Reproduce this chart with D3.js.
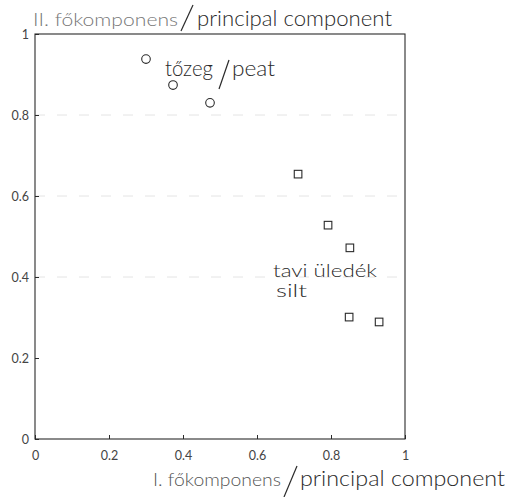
<!DOCTYPE html>
<html><head><meta charset="utf-8">
<script src="https://cdn.jsdelivr.net/npm/d3@7"></script>
<style>body{margin:0;background:#fff}svg{display:block}</style>
</head><body>
<svg id="c" width="508" height="497"></svg>
<script>
const peatX = [0.30, 0.373, 0.473];
const peatY = [0.938, 0.874, 0.830];
const siltX = [0.711, 0.792, 0.851, 0.849, 0.930];
const siltY = [0.654, 0.528, 0.472, 0.301, 0.289];
const xTicks = [0, 0.2, 0.4, 0.6, 0.8, 1];
const yTicks = [0, 0.2, 0.4, 0.6, 0.8, 1];
const xTickLabels = ["0", "0.2", "0.4", "0.6", "0.8", "1"];
const yTickLabels = ["0", "0.2", "0.4", "0.6", "0.8", "1"];

const svg = d3.select("#c");
const L = 35, R = 405, T = 34, B = 439;
const x = d3.scaleLinear().domain([0, 1]).range([L, R]);
const y = d3.scaleLinear().domain([0, 1]).range([B, T]);
const font = "Lato, 'DejaVu Sans', sans-serif";
const ink = "#2a2a2a";

// faint grid
svg.append("g").selectAll("line").data([0.4, 0.6, 0.8]).join("line")
  .attr("x1", L).attr("x2", R).attr("y1", d => y(d)).attr("y2", d => y(d))
  .attr("stroke", "#ddd").attr("stroke-width", 0.8).attr("stroke-dasharray", "10,12");

// frame
svg.append("rect").attr("x", L).attr("y", T).attr("width", R - L).attr("height", B - T)
  .attr("fill", "none").attr("stroke", ink).attr("stroke-width", 1.1);

// axes
const xAxis = d3.axisBottom(x).tickValues(xTicks).tickFormat((d, i) => xTickLabels[i]).tickSizeInner(-4).tickSizeOuter(0).tickPadding(12);
const gx = svg.append("g").attr("transform", `translate(0,${B})`).call(xAxis);
const yAxis = d3.axisLeft(y).tickValues(yTicks).tickFormat((d, i) => yTickLabels[i]).tickSizeInner(-4).tickSizeOuter(0).tickPadding(6);
const gy = svg.append("g").attr("transform", `translate(${L},0)`).call(yAxis);
[gx, gy].forEach(g => {
  g.select(".domain").remove();
  g.selectAll("line").attr("stroke", ink);
  g.selectAll("text").attr("font-family", font).attr("font-size", 12.5).attr("font-weight", 400).attr("fill", "#444");
});

// markers
svg.append("g").selectAll("circle").data(peatX).join("circle")
  .attr("cx", d => x(d)).attr("cy", (d, i) => y(peatY[i])).attr("r", 4.3)
  .attr("fill", "none").attr("stroke", ink).attr("stroke-width", 1.1);
svg.append("g").selectAll("rect").data(siltX).join("rect")
  .attr("x", d => x(d) - 3.8).attr("y", (d, i) => y(siltY[i]) - 3.8).attr("width", 7.6).attr("height", 7.6)
  .attr("fill", "none").attr("stroke", ink).attr("stroke-width", 1.1);

// labels
function t(xp, yp, s, size, len, fill) {
  return svg.append("text").attr("x", xp).attr("y", yp).text(s)
    .attr("font-family", font).attr("font-size", size).attr("font-weight", 300)
    .attr("fill", fill || ink)
    .attr("textLength", len).attr("lengthAdjust", "spacingAndGlyphs");
}
function slash(x1, y1, x2, y2) {
  svg.append("line").attr("x1", x1).attr("y1", y1).attr("x2", x2).attr("y2", y2)
    .attr("stroke", ink).attr("stroke-width", 1.2);
}
// top title
t(33, 26, "II. főkomponens", 17, 145, "#777");
slash(181, 31, 193, 5);
t(197, 26, "principal component", 22, 195);
// bottom title
t(153, 486, "I. főkomponens", 17, 128, "#555");
slash(284, 497, 297, 466);
t(300, 486, "principal component", 22, 205);
// cluster labels
t(165, 76, "tőzeg", 21, 48);
slash(219, 89, 229, 60);
t(232, 76, "peat", 21, 43);
t(273, 277, "tavi üledék", 17, 104);
t(276, 297, "silt", 17, 31);
</script>
</body></html>
